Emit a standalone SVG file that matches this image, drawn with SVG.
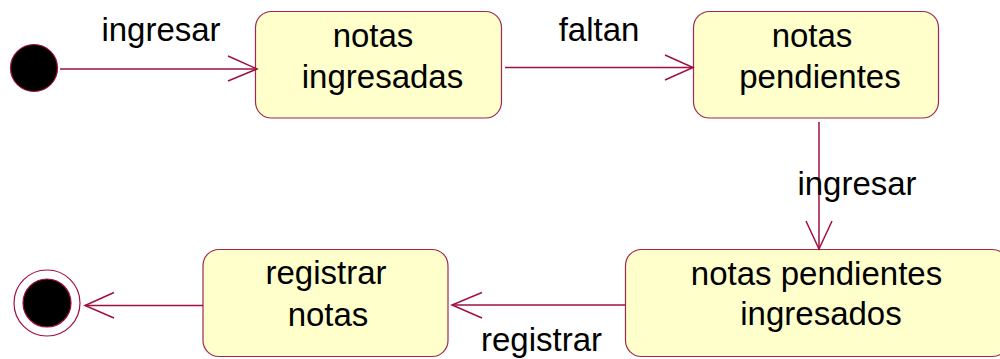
<svg xmlns="http://www.w3.org/2000/svg" width="1000" height="359" viewBox="0 0 1000 359">
<style>
.state{fill:#FFFFCC;stroke:#A0284E;stroke-width:1.2}
.t{font-family:"Liberation Sans",Arial,sans-serif;font-size:33px;fill:#000;text-anchor:middle}
.edge{stroke:#A0103E;stroke-width:1.5;fill:none}
.head{stroke:#A0103E;stroke-width:1.5;fill:none}
</style>
<rect width="1000" height="359" fill="#fff"/>
<g id="start"><circle cx="34" cy="68" r="23.5" fill="#000" stroke="#A0103E" stroke-width="1.2"/></g>
<g id="notas-ingresadas">
<rect class="state" x="255.5" y="11.5" width="246" height="106.5" rx="16"/>
<text class="t" x="373" y="47">notas</text>
<text class="t" x="382.5" y="88">ingresadas</text>
</g>
<g id="notas-pendientes">
<rect class="state" x="693.5" y="11.5" width="245" height="106.5" rx="16"/>
<text class="t" x="812" y="47">notas</text>
<text class="t" x="820" y="88">pendientes</text>
</g>
<g id="notas-pendientes-ingresados">
<rect class="state" x="625.5" y="249.5" width="383" height="107" rx="16"/>
<text class="t" x="816.5" y="285">notas pendientes</text>
<text class="t" x="821" y="325">ingresados</text>
</g>
<g id="registrar-notas">
<rect class="state" x="203" y="249.5" width="245" height="107" rx="16"/>
<text class="t" x="326" y="284">registrar</text>
<text class="t" x="328" y="326">notas</text>
</g>
<g id="end">
<circle cx="47" cy="303" r="33" fill="#fff" stroke="#A0103E" stroke-width="1.2"/>
<circle cx="47" cy="303" r="24" fill="#000" stroke="#A0103E" stroke-width="1.2"/>
</g>
<g id="connectors">
<line class="edge" x1="60" y1="69" x2="257" y2="69"/>
<polyline class="head" points="228,56 257,69 228,81"/>
<text class="t" x="161" y="41">ingresar</text>
<line class="edge" x1="505" y1="67.5" x2="693" y2="67.5"/>
<polyline class="head" points="665,55 693,67.5 665,80"/>
<text class="t" x="599" y="41">faltan</text>
<line class="edge" x1="819" y1="122" x2="819" y2="249"/>
<polyline class="head" points="806,221 819,249 832,221"/>
<text class="t" x="857" y="195">ingresar</text>
<line class="edge" x1="625" y1="305" x2="452" y2="305"/>
<polyline class="head" points="482,292.5 452,305 482,318"/>
<text class="t" x="541.5" y="351">registrar</text>
<line class="edge" x1="203" y1="305.5" x2="85" y2="305.5"/>
<polyline class="head" points="114,292.5 85,305.5 114,318"/>
</g>
</svg>
